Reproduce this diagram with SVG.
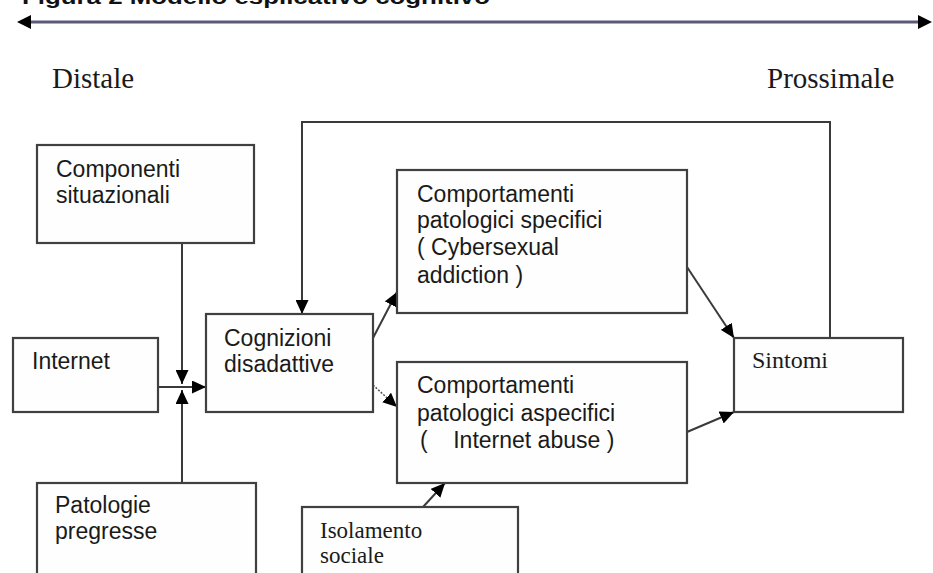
<svg xmlns="http://www.w3.org/2000/svg" width="933" height="573" viewBox="0 0 933 573">
<defs>
<marker id="ah" markerUnits="userSpaceOnUse" markerWidth="15" markerHeight="13" refX="14" refY="6.5" orient="auto">
<path d="M0,0 L14,6.5 L0,13 z" fill="#000"/>
</marker>
<marker id="ahs" markerUnits="userSpaceOnUse" markerWidth="14" markerHeight="14" refX="1" refY="7" orient="auto-start-reverse">
<path d="M0,0 L14,7 L0,14 z" fill="#000"/>
</marker>
<style>
.box{fill:#fdfefd;stroke:#404040;stroke-width:2.2}
.ln{fill:none;stroke:#3a3a3a;stroke-width:2}
.dot{fill:none;stroke:#505050;stroke-width:1.5;stroke-dasharray:2 1.5}
.sans{font-family:"Liberation Sans",Arial,sans-serif;font-size:23px;fill:#1a1a1a}
.serif{font-family:"Liberation Serif","Times New Roman",serif;fill:#1a1a1a}
</style>
</defs>
<rect width="933" height="573" fill="#fff"/>
<text x="22" y="4" font-family="Liberation Sans,Arial,sans-serif" font-weight="bold" font-size="21" fill="#111" textLength="468" lengthAdjust="spacingAndGlyphs">Figura 2 Modello esplicativo cognitivo</text>
<text class="serif" x="52" y="88" font-size="29">Distale</text>
<text class="serif" x="767" y="88" font-size="29">Prossimale</text>
<g id="connectors">
<line x1="30" y1="22" x2="919" y2="22" stroke="#5a5a78" stroke-width="3" marker-start="url(#ahs)" marker-end="url(#ahs)"/>
<line class="ln" x1="182" y1="243" x2="182" y2="384" marker-end="url(#ah)"/>
<line class="ln" x1="182" y1="483" x2="182" y2="390" marker-end="url(#ah)"/>
<line class="ln" x1="158" y1="387" x2="206" y2="387" marker-end="url(#ah)"/>
<polyline class="ln" points="830,338 830,122 302,122 302,314" marker-end="url(#ah)"/>
<line class="ln" x1="373" y1="338" x2="397" y2="292" marker-end="url(#ah)"/>
<line class="dot" x1="373" y1="385" x2="397" y2="407" marker-end="url(#ah)"/>
<line class="ln" x1="687" y1="267" x2="734" y2="338" marker-end="url(#ah)"/>
<line class="ln" x1="687" y1="432" x2="734" y2="412" marker-end="url(#ah)"/>
<line class="ln" x1="423" y1="507" x2="445" y2="483" marker-end="url(#ah)"/>
</g>
<g id="componenti">
<rect class="box" x="37" y="145" width="217" height="98"/>
<text class="sans" x="56" y="177">Componenti</text>
<text class="sans" x="56" y="203">situazionali</text>
</g>
<g id="internet">
<rect class="box" x="13" y="338" width="145" height="74"/>
<text class="sans" x="32" y="369">Internet</text>
</g>
<g id="patologie">
<rect class="box" x="37" y="483" width="219" height="100"/>
<text class="sans" x="55" y="513">Patologie</text>
<text class="sans" x="55" y="539">pregresse</text>
</g>
<g id="cognizioni">
<rect class="box" x="206" y="314" width="167" height="98"/>
<text class="sans" x="224" y="346">Cognizioni</text>
<text class="sans" x="224" y="372">disadattive</text>
</g>
<g id="specifici">
<rect class="box" x="397" y="170" width="290" height="143"/>
<text class="sans" x="417" y="202">Comportamenti</text>
<text class="sans" x="417" y="228">patologici specifici</text>
<text class="sans" x="417" y="255">( Cybersexual</text>
<text class="sans" x="417" y="283">addiction )</text>
</g>
<g id="aspecifici">
<rect class="box" x="397" y="362" width="290" height="121"/>
<text class="sans" x="417" y="393">Comportamenti</text>
<text class="sans" x="417" y="421">patologici aspecifici</text>
<text class="sans" x="420" y="448" xml:space="preserve">(    Internet abuse )</text>
</g>
<g id="sintomi">
<rect class="box" x="734" y="338" width="169" height="74"/>
<text class="serif" x="752" y="368" font-size="24">Sintomi</text>
</g>
<g id="isolamento">
<rect class="box" x="302" y="507" width="216" height="76"/>
<text class="serif" x="320" y="538" font-size="23">Isolamento</text>
<text class="serif" x="320" y="563" font-size="23">sociale</text>
</g>
</svg>
